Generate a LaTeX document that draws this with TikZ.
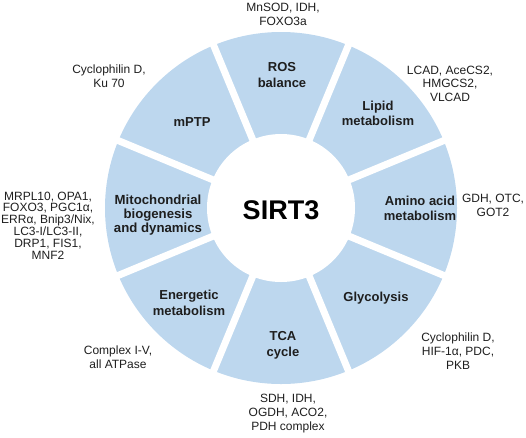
\documentclass[tikz,border=0pt]{standalone}
\usepackage{fontspec}
\setmainfont{Liberation Sans}
\definecolor{sect}{RGB}{189,215,238}
\definecolor{ink}{RGB}{30,30,30}
\begin{document}
\begin{tikzpicture}[x=1pt,y=-1pt,
  seclab/.style={font=\fontsize{13}{15.5}\selectfont\bfseries, align=center, text=ink, inner sep=0pt},
  outlab/.style={font=\fontsize{12}{14}\selectfont, align=center, text=ink, inner sep=0pt},
  gap/.style={white, line width=7pt}
]
\useasboundingbox (0,0) rectangle (526,437);
\coordinate (c) at (281,208);
\fill[sect] (c) circle (176pt);
\foreach \a in {22.5,67.5,...,337.5} \draw[gap] (c) -- ++(\a:190pt);
\fill[white] (c) circle (74pt);
\node[font=\fontsize{27}{30}\selectfont\bfseries, text=black, inner sep=0pt] (sirt) at (281,210) {SIRT3};
% sector labels
\node[seclab] (ros) at (282,75) {ROS\\balance};
\node[seclab] (lipid) at (378,113.5) {Lipid\\metabolism};
\node[seclab] (amino) at (420,208.5) {Amino acid\\metabolism};
\node[seclab] (glyco) at (376,298) {Glycolysis};
\node[seclab] (tca) at (283,345.5) {TCA\\cycle};
\node[seclab] (energ) at (189,303) {Energetic\\metabolism};
\node[seclab, font=\fontsize{13.2}{13.6}\selectfont\bfseries] (mito) at (158,215) {Mitochondrial\\biogenesis\\and dynamics};
\node[seclab] (mptp) at (192,122) {mPTP};
% outer labels
\node[outlab] (o-ros) at (283,14) {MnSOD, IDH,\\FOXO3a};
\node[outlab] (o-mptp) at (109,76) {Cyclophilin D,\\Ku 70};
\node[outlab, font=\fontsize{12}{13.5}\selectfont] (o-lipid) at (450,83.5) {LCAD, AceCS2,\\HMGCS2,\\VLCAD};
\node[outlab, font=\fontsize{12}{13.5}\selectfont] (o-amino) at (493,205.5) {GDH, OTC,\\GOT2};
\node[outlab] (o-glyco) at (458,351) {Cyclophilin D,\\HIF-1α, PDC,\\PKB};
\node[outlab] (o-tca) at (288,414) {SDH, IDH,\\OGDH, ACO2,\\PDH complex};
\node[outlab] (o-energ) at (118,357) {Complex I-V,\\all ATPase};
\node[outlab, font=\fontsize{12}{11.8}\selectfont] (o-mito) at (48,225.5) {MRPL10, OPA1,\\FOXO3, PGC1α,\\ERRα, Bnip3/Nix,\\LC3-I/LC3-II,\\DRP1, FIS1,\\MNF2};
\end{tikzpicture}
\end{document}
